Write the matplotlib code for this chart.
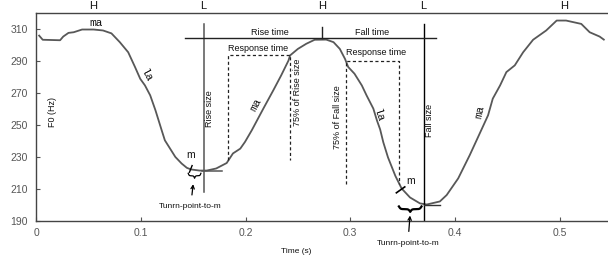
import numpy as np
import matplotlib
matplotlib.use("Agg")
import matplotlib.pyplot as plt

plt.rcParams['font.family'] = ['Liberation Sans', 'DejaVu Sans']

# F0 contour
t = [0.003, 0.0064, 0.023, 0.026, 0.031, 0.036, 0.044, 0.055, 0.064, 0.072,
     0.080, 0.088, 0.0945, 0.0995, 0.104, 0.109, 0.114, 0.117, 0.120, 0.123,
     0.128, 0.133, 0.139, 0.144, 0.148, 0.156, 0.163, 0.172, 0.182, 0.188,
     0.195, 0.1995, 0.206, 0.217, 0.2265, 0.234, 0.241, 0.2425, 0.250, 0.258,
     0.266, 0.277, 0.284, 0.290, 0.295, 0.298, 0.304, 0.311, 0.3155, 0.322,
     0.3255, 0.3285, 0.3315, 0.336, 0.343, 0.349, 0.357, 0.3665, 0.373, 0.3855,
     0.392, 0.403, 0.414, 0.4235, 0.4315, 0.436, 0.443, 0.449, 0.457, 0.465,
     0.4745, 0.487, 0.497, 0.506, 0.5205, 0.5285, 0.538, 0.542]
f0 = [305.6, 303.0, 302.7, 305.0, 307.3, 307.7, 309.4, 309.4, 308.8, 307.0,
      301.5, 295.2, 286.0, 278.6, 274.5, 268.3, 259.0, 252.7, 246.4, 240.2,
      235.0, 229.8, 225.7, 223.0, 222.0, 221.3, 221.3, 222.6, 226.0, 232.0,
      235.0, 239.2, 246.5, 260.0, 271.4, 280.7, 290.0, 293.2, 297.3, 300.5,
      303.0, 303.1, 301.5, 297.3, 291.0, 286.0, 281.8, 274.5, 268.3, 260.0,
      252.5, 247.0, 239.0, 229.5, 218.0, 210.1, 204.5, 200.8, 200.1, 202.0,
      206.0, 216.4, 230.9, 244.4, 255.8, 266.2, 274.5, 282.8, 287.0, 295.2,
      303.0, 308.8, 315.0, 315.0, 312.9, 307.7, 305.0, 303.1]

xticks = [0, 0.1, 0.2, 0.3, 0.4, 0.5]
xticklabels = ['0', '0.1', '0.2', '0.3', '0.4', '0.5']
yticks = [190, 210, 230, 250, 270, 290, 310]

tone_x = [0.055, 0.16, 0.273, 0.37, 0.504]
tone_labels = ['H', 'L', 'H', 'L', 'H']

# key points of the measurement
turn1, turn1_f0 = 0.16, 221.0
turn2, turn2_f0 = 0.37, 199.7
peak, peak_f0 = 0.273, 303.8
rise_box = (0.183, 227.8, 0.2424, 293.2)
fall_box = (0.2955, 212.8, 0.3464, 290.0)

CURVE = '#585858'
TXT = '#111111'
GRAY = '#555555'

fig = plt.figure(figsize=(6.08, 2.56), dpi=100)
ax = fig.add_axes([36 / 608, 0.138, 1 - 36 / 608, 0.813])

ax.plot(t, f0, color=CURVE, lw=1.3)

ax.set_xlim(0, 0.546)
ax.set_ylim(190, 320)
ax.set_xticks(xticks, labels=xticklabels)
ax.set_yticks(yticks)
ax.tick_params(direction='in', length=3, color=GRAY, labelcolor=GRAY, labelsize=7.5)
ax.tick_params(axis='x', pad=5)
ax.tick_params(axis='y', pad=6)
ax.spines['right'].set_visible(False)
for s in ['left', 'top', 'bottom']:
    ax.spines[s].set_color('#444444')
    ax.spines[s].set_linewidth(1.0)

top = ax.secondary_xaxis('top')
top.set_xticks(tone_x, labels=tone_labels)
top.tick_params(length=0, pad=1, labelsize=8, labelcolor=TXT)
top.spines['top'].set_visible(False)

ax.text(0.248, 171, 'Time (s)', fontsize=6, ha='center', va='center', color=TXT, clip_on=False)
ax.text(0.016, 258, 'F0 (Hz)', fontsize=6.5, rotation=90, ha='center', va='center', color=TXT)

# vertical guide lines and rise/fall time line
ax.plot([turn1, turn1], [208, 312.9], color=GRAY, lw=1.1)
ax.plot([turn2, turn2], [190, 312.9], color='black', lw=1.0)
ax.plot([0.142, 0.382], [peak_f0, peak_f0], color='#222222', lw=1.0)
ax.plot([peak, peak], [peak_f0, 310.8], color='#222222', lw=1.0)
ax.plot([turn1 - 0.002, 0.178], [turn1_f0, turn1_f0], color=GRAY, lw=1.1)
ax.plot([turn2, 0.386], [turn2_f0, turn2_f0], color='#333333', lw=1.0)

ax.text(0.223, 307.3, 'Rise time', fontsize=6.5, ha='center', va='center', color=TXT)
ax.text(0.321, 307.3, 'Fall time', fontsize=6.5, ha='center', va='center', color=TXT)

# dashed response boxes
for (x0, y0, x1, y1) in [rise_box, fall_box]:
    ax.plot([x0, x0, x1, x1], [y0, y1, y1, y0], color='#222222', lw=0.9, ls=(0, (2.5, 2)))
ax.text(0.212, 297.6, 'Response time', fontsize=6.5, ha='center', va='center', color=TXT)
ax.text(0.325, 295.2, 'Response time', fontsize=6.5, ha='center', va='center', color=TXT)

ax.text(0.250, 270, '75% of Rise size', fontsize=6.5, rotation=90, ha='center', va='center', color=TXT)
ax.text(0.288, 254.5, '75% of Fall size', fontsize=6.5, rotation=90, ha='center', va='center', color=TXT)
ax.text(0.166, 260, 'Rise size', fontsize=6.5, rotation=90, ha='center', va='center', color=TXT)
ax.text(0.376, 252.7, 'Fall size', fontsize=6.5, rotation=90, ha='center', va='center', color=TXT)

# syllable labels along the contour
mono = ['Liberation Mono', 'DejaVu Sans Mono']
ax.text(0.057, 313.6, 'ma', family=mono, fontsize=8, ha='center', va='center', color=TXT)
ax.text(0.1055, 280.5, 'la', family=mono, fontsize=8, rotation=-62, ha='center', va='center', color=TXT)
ax.text(0.2095, 262.5, 'ma', family=mono, fontsize=8, rotation=62, ha='center', va='center', color=TXT)
ax.text(0.327, 256, 'la', family=mono, fontsize=8, rotation=-72, ha='center', va='center', color=TXT)
ax.text(0.4235, 257.8, 'ma', family=mono, fontsize=8, rotation=78, ha='center', va='center', color=TXT)

# m markers
ax.text(0.1478, 231, 'm', fontsize=7.5, ha='center', va='center', color=TXT)
ax.plot([0.1465, 0.149], [220.3, 224.4], color='black', lw=1.0)
ax.text(0.358, 215, 'm', fontsize=7.5, ha='center', va='center', color=TXT)
ax.plot([0.344, 0.352], [207.4, 211.1], color='black', lw=1.2)


def brace(x0, x1, ytop, depth, lw):
    n = 201
    xs = np.linspace(x0, x1, n)
    half = xs[:n // 2 + 1]
    beta = 14 / (half[-1] - half[0])
    v = 1 / (1 + np.exp(-beta * (half - half[0]))) + 1 / (1 + np.exp(-beta * (half - half[-1])))
    v = np.concatenate((v, v[-2::-1]))
    ax.plot(xs, ytop - (v - 0.5) * depth, color='black', lw=lw, clip_on=False)


brace(0.1453, 0.1574, 219.6, 3.1, 0.9)
brace(0.3464, 0.368, 198.9, 3.4, 1.6)

ax.annotate('Tunrn-point-to-m', xy=(0.150, 212.8), xytext=(0.1476, 198.7),
            fontsize=6, ha='center', va='center', color=TXT,
            arrowprops=dict(arrowstyle='->', color='black', lw=0.9, shrinkA=4, shrinkB=0))
ax.annotate('Tunrn-point-to-m', xy=(0.357, 193.2), xytext=(0.355, 175.9),
            fontsize=6, ha='center', va='center', color=TXT, annotation_clip=False,
            arrowprops=dict(arrowstyle='->', color='black', lw=0.9, shrinkA=4, shrinkB=0))

fig.savefig('out.png', dpi=100)
